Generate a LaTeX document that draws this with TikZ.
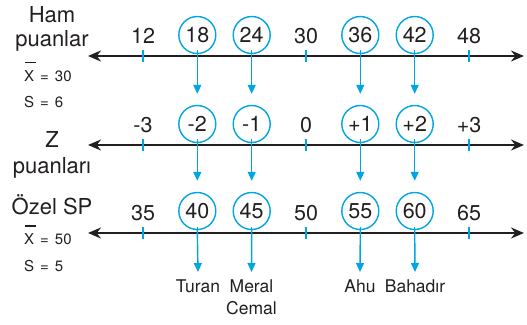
\documentclass[tikz,border=0pt]{standalone}
\usepackage{fontspec}
\setmainfont{TeX Gyre Heros}
\usetikzlibrary{arrows.meta}
\definecolor{cy}{RGB}{0,166,228}
\definecolor{ink}{RGB}{35,31,32}
\tikzset{
  axisline/.style={ink, line width=1.6pt, {Stealth[length=13pt,width=11pt]}-{Stealth[length=13pt,width=11pt]}},
  tickmark/.style={cy, line width=1.4pt},
  circ/.style={circle, draw=cy, line width=1.4pt, minimum size=37pt, inner sep=0pt, text=ink, font=\fontsize{21.5}{21.5}\selectfont},
  num/.style={text=ink, font=\fontsize{21.5}{21.5}\selectfont, inner sep=0pt},
  conn/.style={cy, line width=1.4pt, -{Triangle[length=9pt,width=8pt]}},
  lab/.style={text=ink, font=\fontsize{22}{22}\selectfont, inner sep=0pt},
  smalltxt/.style={text=ink, font=\fontsize{15}{15}\selectfont, inner sep=0pt, anchor=west},
  pname/.style={text=ink, font=\fontsize{17.5}{22}\selectfont, inner sep=0pt, anchor=north, align=center}
}
\newcommand{\eqsp}{\hspace{6pt}}
\begin{document}
\begin{tikzpicture}[x=1pt,y=-1pt]
\useasboundingbox (0,0) rectangle (527,324);
% left labels
\node[lab] (ham) at (52,15) {Ham};
\node[lab] (puanlar) at (52,41) {puanlar};
\node[smalltxt] (x1) at (24,76) {X\eqsp=\eqsp30};
\draw[ink, line width=1.8pt] (25,62.5) -- (36,62.5);
\node[smalltxt] (s1) at (24,102) {S\eqsp=\eqsp6};
\node[lab] (z) at (52,139) {Z};
\node[lab] (puanlari) at (52,168) {puanları};
\node[lab] (ozel) at (52,205) {Özel SP};
\node[smalltxt] (x2) at (24,239) {X\eqsp=\eqsp50};
\draw[ink, line width=1.8pt] (25,226) -- (36,226);
\node[smalltxt] (s2) at (24,266) {S\eqsp=\eqsp5};
% axis lines
\coordinate (l1a) at (88,56); \coordinate (l1b) at (524,56);
\coordinate (l2a) at (88,145); \coordinate (l2b) at (524,145);
\coordinate (l3a) at (88,233); \coordinate (l3b) at (524,233);
\draw[axisline] (l1a) -- (l1b);
\draw[axisline] (l2a) -- (l2b);
\draw[axisline] (l3a) -- (l3b);
% ticks
\foreach \i in {0,...,6}{
  \draw[tickmark] ({143+54.33*\i},50) -- ({143+54.33*\i},62);
  \draw[tickmark] ({143+54.33*\i},139) -- ({143+54.33*\i},151);
  \draw[tickmark] ({143+54.33*\i},227) -- ({143+54.33*\i},239);
}
% row 1
\node[num] (a0) at (143,36) {12};
\node[circ] (a1) at (197.3,35) {18};
\node[circ] (a2) at (251.7,35) {24};
\node[num] (a3) at (306,36) {30};
\node[circ] (a4) at (360.3,35) {36};
\node[circ] (a5) at (414.7,35) {42};
\node[num] (a6) at (469,36) {48};
% row 2
\node[num] (b0) at (143,125) {-3};
\node[circ] (b1) at (197.3,124) {-2};
\node[circ] (b2) at (251.7,124) {-1};
\node[num] (b3) at (306,125) {0};
\node[circ] (b4) at (360.3,124) {+1};
\node[circ] (b5) at (414.7,124) {+2};
\node[num] (b6) at (469,125) {+3};
% row 3
\node[num] (c0) at (143,213) {35};
\node[circ] (c1) at (197.3,211) {40};
\node[circ] (c2) at (251.7,211) {45};
\node[num] (c3) at (306,213) {50};
\node[circ] (c4) at (360.3,211) {55};
\node[circ] (c5) at (414.7,211) {60};
\node[num] (c6) at (469,213) {65};
% names
\node[pname] (turan) at (198,280) {Turan};
\node[pname] (meral) at (251.5,280) {Meral\\Cemal};
\node[pname] (ahu) at (360,280) {Ahu};
\node[pname] (bahadir) at (415,280) {Bahadır};
% connectors
\foreach \u/\v in {a1/b1,a2/b2,a4/b4,a5/b5,b1/c1,b2/c2,b4/c4,b5/c5}{
  \draw[conn] (\u.south) -- ([yshift=11pt]\v.north);
}
\draw[conn] (c1.south) -- ([yshift=8pt]turan.north);
\draw[conn] (c2.south) -- ([yshift=8pt]meral.north);
\draw[conn] (c4.south) -- ([yshift=8pt]ahu.north);
\draw[conn] (c5.south) -- ([yshift=8pt]bahadir.north);
\end{tikzpicture}
\end{document}
